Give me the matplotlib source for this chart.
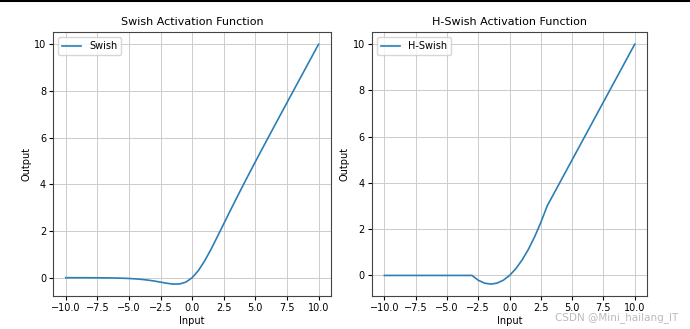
import matplotlib
matplotlib.use("Agg")
import matplotlib.pyplot as plt

# Values (x step 0.5)
x_vals = [-10.0, -9.5, -9.0, -8.5, -8.0, -7.5, -7.0, -6.5, -6.0, -5.5, -5.0,
          -4.5, -4.0, -3.5, -3.0, -2.5, -2.0, -1.5, -1.0, -0.5, 0.0,
          0.5, 1.0, 1.5, 2.0, 2.5, 3.0, 3.5, 4.0, 4.5, 5.0,
          5.5, 6.0, 6.5, 7.0, 7.5, 8.0, 8.5, 9.0, 9.5, 10.0]

swish_vals = [0.00, 0.00, 0.00, 0.00, -0.003, -0.004, -0.006, -0.01, -0.015, -0.022, -0.034,
              -0.049, -0.072, -0.103, -0.142, -0.19, -0.238, -0.274, -0.269, -0.189, 0.0,
              0.311, 0.731, 1.226, 1.762, 2.31, 2.858, 3.397, 3.928, 4.451, 4.967,
              5.478, 5.985, 6.49, 6.994, 7.496, 7.997, 8.498, 8.999, 9.499, 10.0]

hswish_vals = [0.0, 0.0, 0.0, 0.0, 0.0, 0.0, 0.0, 0.0, 0.0, 0.0, 0.0,
               0.0, 0.0, 0.0, 0.0, -0.208, -0.333, -0.375, -0.333, -0.208, 0.0,
               0.292, 0.667, 1.125, 1.667, 2.292, 3.0, 3.5, 4.0, 4.5, 5.0,
               5.5, 6.0, 6.5, 7.0, 7.5, 8.0, 8.5, 9.0, 9.5, 10.0]

titles = ["Swish Activation Function", "H-Swish Activation Function"]
labels = ["Swish", "H-Swish"]

fs = 7
fig = plt.figure(figsize=(6.9, 3.29), dpi=100)
ax1 = fig.add_axes([0.077, 0.10, 0.403, 0.802])
ax2 = fig.add_axes([0.539, 0.10, 0.399, 0.802])

for ax, y, title, lab in zip([ax1, ax2], [swish_vals, hswish_vals], titles, labels):
    ax.plot(x_vals, y, color="#2b7fb6", lw=1.2, label=lab)
    ax.set_title(title, fontsize=8, pad=5)
    ax.set_xlabel("Input", fontsize=fs, labelpad=2)
    ax.set_ylabel("Output", fontsize=fs, labelpad=2)
    ax.tick_params(labelsize=fs, length=3, pad=2)
    ax.grid(True, color="#cccccc", lw=0.7)
    ax.legend(loc="upper left", fontsize=fs, handlelength=2)
    for s in ax.spines.values():
        s.set_color("#444444")

# dark strip across the top edge and the watermark
fig.add_artist(plt.Line2D([0, 1], [0.996, 0.996], transform=fig.transFigure,
                          color="black", lw=1.5))
fig.text(0.983, 0.018, "CSDN @Mini_hailang_IT", ha="right", va="bottom",
         fontsize=7.5, color="#bbbbbb")

fig.savefig("out.png", dpi=100)
